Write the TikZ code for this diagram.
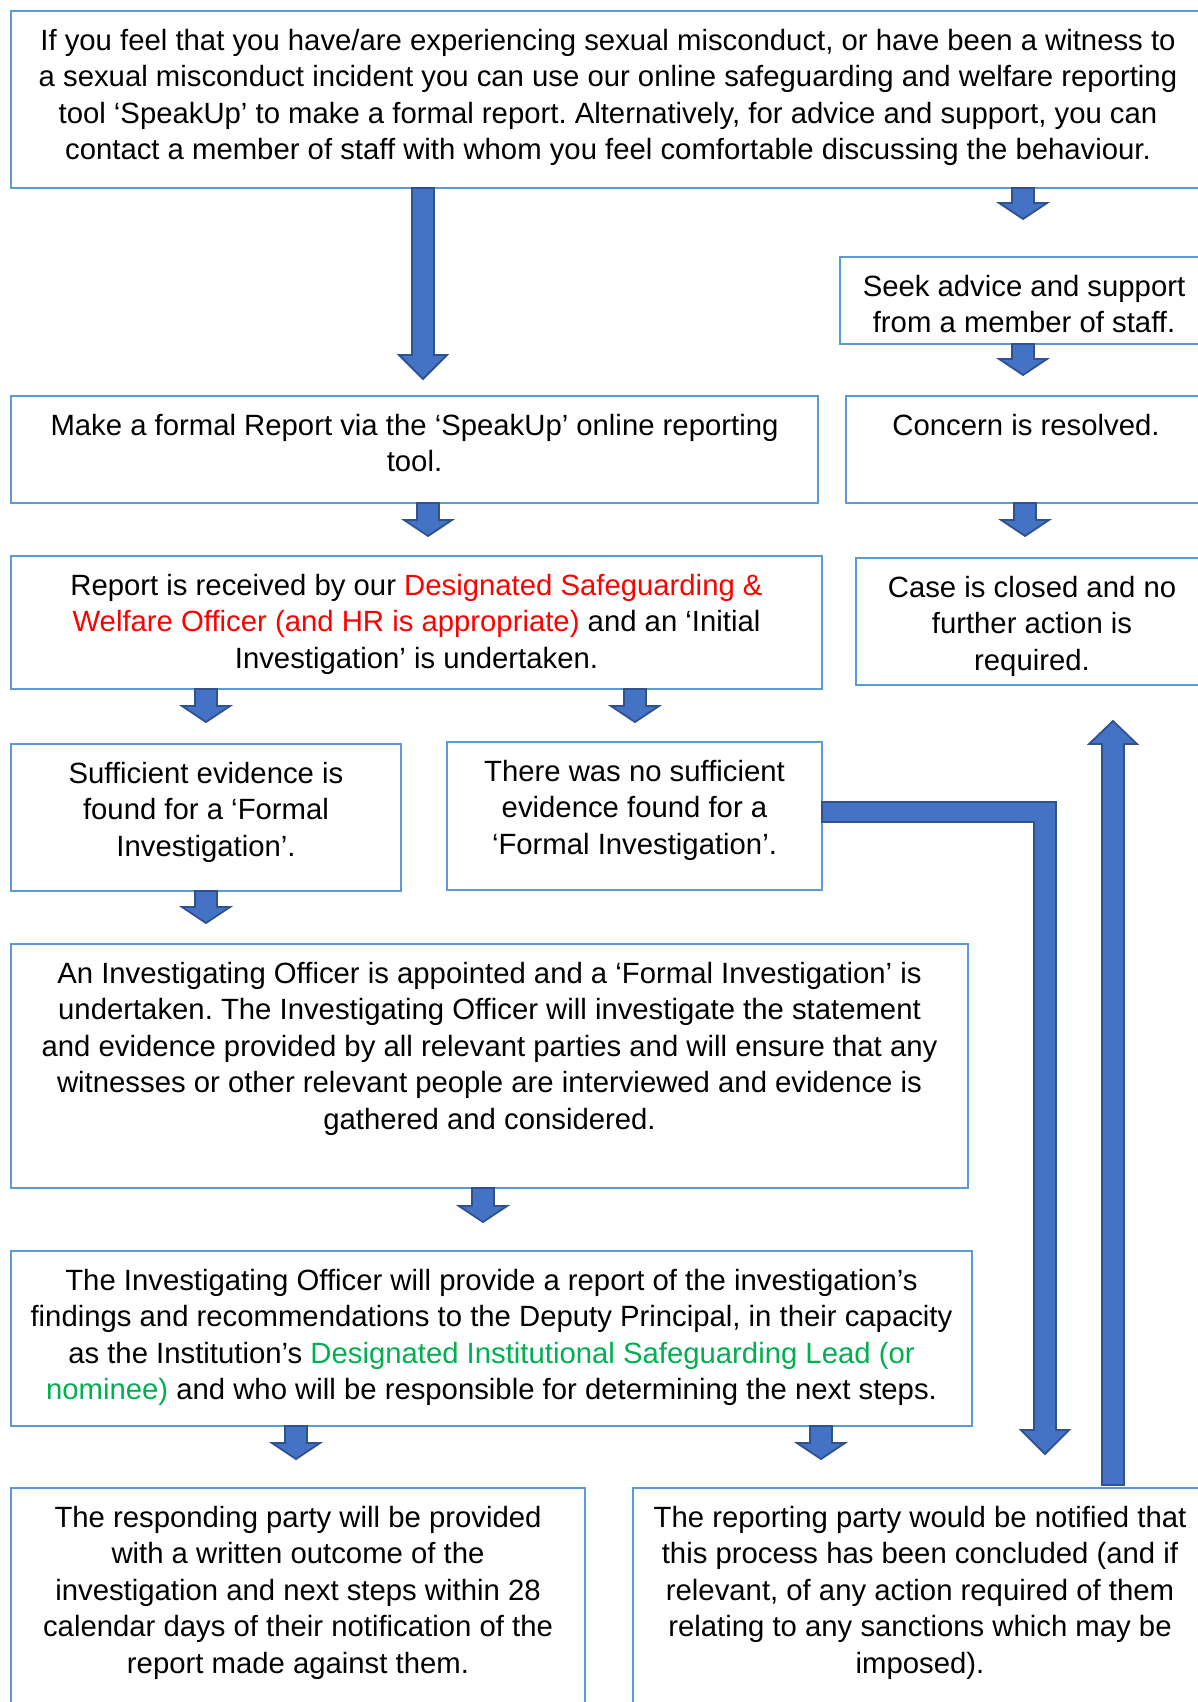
\documentclass[tikz,border=0pt]{standalone}
\usepackage{fontspec}
\setmainfont{Liberation Sans}
\usepackage{tikz}
\usetikzlibrary{positioning}
\frenchspacing

\definecolor{boxline}{HTML}{5B9BD5}
\definecolor{arrowfill}{HTML}{4472C4}
\definecolor{arrowline}{HTML}{2F528F}
\definecolor{leadred}{HTML}{FF0000}
\definecolor{leadgreen}{HTML}{00B050}

% block arrow pointing down: x, start anchor, length, head length
\newcommand{\blockdown}[4]{%
  \filldraw[blockarrow] (#1,0 |- #2) ++(-11,0) -- ++(0,{#3-#4}) -- ++(-13,0)
    -- ++(24,#4) -- ++(24,-#4) -- ++(-13,0) -- ++(0,{#4-#3}) -- cycle;}

\begin{document}
\begin{tikzpicture}
    [x=0.5pt,y=-0.5pt,
     box/.style={draw=boxline,line width=1pt,inner sep=0pt,outer sep=0pt,anchor=north west},
     txt/.style={font=\fontsize{14.65}{18.2}\selectfont,align=center,inner sep=0pt},
     blockarrow/.style={fill=arrowfill,draw=arrowline,line width=0.9pt}]
    \path[use as bounding box] (0,0) rectangle (1198,1702);
    \clip (0,0) rectangle (1198,1702);

    % boxes
    \node[box,minimum width=597pt,minimum height=88.5pt] (nstart) at (11,11) {};
    \node[box,minimum width=184pt,minimum height=43.5pt] (nseek) at (840,257) {};
    \node[box,minimum width=403.5pt,minimum height=53.5pt] (nreport) at (11,396) {};
    \node[box,minimum width=180pt,minimum height=53.5pt] (nresolved) at (846,396) {};
    \node[box,minimum width=405.5pt,minimum height=66.5pt] (nreceived) at (11,556) {};
    \node[box,minimum width=176pt,minimum height=63.5pt] (nclosed) at (856,558) {};
    \node[box,minimum width=195pt,minimum height=73.5pt] (nenough) at (11,744) {};
    \node[box,minimum width=187.5pt,minimum height=74pt] (nnoenough) at (447,742) {};
    \node[box,minimum width=478.5pt,minimum height=122pt] (nformal) at (11,944) {};
    \node[box,minimum width=480.5pt,minimum height=87.5pt] (nfindings) at (11,1251) {};
    \node[box,minimum width=287pt,minimum height=130pt] (nrespond) at (11,1488) {};
    \node[box,minimum width=287pt,minimum height=130pt] (nnotify) at (633,1488) {};

    % texts
    \node[txt,below=6.76pt of nstart.north] (tstart) {\strut If you feel that you have/are experiencing sexual misconduct, or have been a witness to\\
      a sexual misconduct incident you can use our online safeguarding and welfare reporting\\
      tool ‘SpeakUp’ to make a formal report. Alternatively, for advice and support, you can\\
      contact a member of staff with whom you feel comfortable discussing the behaviour.};
    \node[txt,below=6.76pt of nseek.north] (tseek) {\strut Seek advice and support\\from a member of staff.};
    \node[txt,below=6.76pt of nreport.north] (treport) {\strut Make a formal Report via the ‘SpeakUp’ online reporting\\tool.};
    \node[txt,below=6.76pt of nresolved.north] (tresolved) {\strut Concern is resolved.};
    \node[txt,below=6.76pt of nreceived.north] (treceived) {\strut Report is received by our \textcolor{leadred}{Designated Safeguarding \&}\\
      \textcolor{leadred}{Welfare Officer (and HR is appropriate)} and an ‘Initial\\
      Investigation’ is undertaken.};
    \node[txt,below=6.76pt of nclosed.north] (tclosed) {\strut Case is closed and no\\further action is\\required.};
    \node[txt,below=6.76pt of nenough.north] (tenough) {\strut Sufficient evidence is\\found for a ‘Formal\\Investigation’.};
    \node[txt,below=6.76pt of nnoenough.north] (tnoenough) {\strut There was no sufficient\\evidence found for a\\‘Formal Investigation’.};
    \node[txt,below=6.76pt of nformal.north] (tformal) {\strut An Investigating Officer is appointed and a ‘Formal Investigation’ is\\
      undertaken. The Investigating Officer will investigate the statement\\
      and evidence provided by all relevant parties and will ensure that any\\
      witnesses or other relevant people are interviewed and evidence is\\
      gathered and considered.};
    \node[txt,below=6.76pt of nfindings.north] (tfindings) {\strut The Investigating Officer will provide a report of the investigation’s\\
      findings and recommendations to the Deputy Principal, in their capacity\\
      as the Institution’s \textcolor{leadgreen}{Designated Institutional Safeguarding Lead (or}\\
      \textcolor{leadgreen}{nominee)} and who will be responsible for determining the next steps.};
    \node[txt,below=6.76pt of nrespond.north] (trespond) {\strut The responding party will be provided\\with a written outcome of the\\
      investigation and next steps within 28\\calendar days of their notification of the\\report made against them.};
    \node[txt,below=6.76pt of nnotify.north] (tnotify) {\strut The reporting party would be notified that\\this process has been concluded (and if\\
      relevant, of any action required of them\\relating to any sanctions which may be\\imposed).};

    % arrows
    \blockdown{423}{nstart.south}{191}{24}
    \blockdown{1023}{nstart.south}{31}{16}
    \blockdown{1023}{nseek.south}{31}{16}
    \blockdown{428}{nreport.south}{33}{16}
    \blockdown{1025}{nresolved.south}{33}{16}
    \blockdown{206}{nreceived.south}{33}{16}
    \blockdown{635}{nreceived.south}{33}{16}
    \blockdown{206}{nenough.south}{32}{16}
    \blockdown{483}{nformal.south}{34}{16}
    \blockdown{296}{nfindings.south}{33}{16}
    \blockdown{821}{nfindings.south}{33}{16}

    \coordinate (ndrop) at (1045,1454);
    \filldraw[blockarrow] ([yshift=7pt]nnoenough.east) -- (1056,802) -- (1056,1430) -- (1069,1430)
      -- (ndrop) -- (1021,1430) -- (1034,1430) -- (1034,822) -- ([yshift=-3pt]nnoenough.east) -- cycle;

    \filldraw[blockarrow] (1113,0 |- nnotify.north) ++(-11,-3) -- ++(0,-741) -- ++(-13,0)
      -- ++(24,-23) -- ++(24,23) -- ++(-13,0) -- ++(0,741) -- cycle;

  \end{tikzpicture}
\end{document}
